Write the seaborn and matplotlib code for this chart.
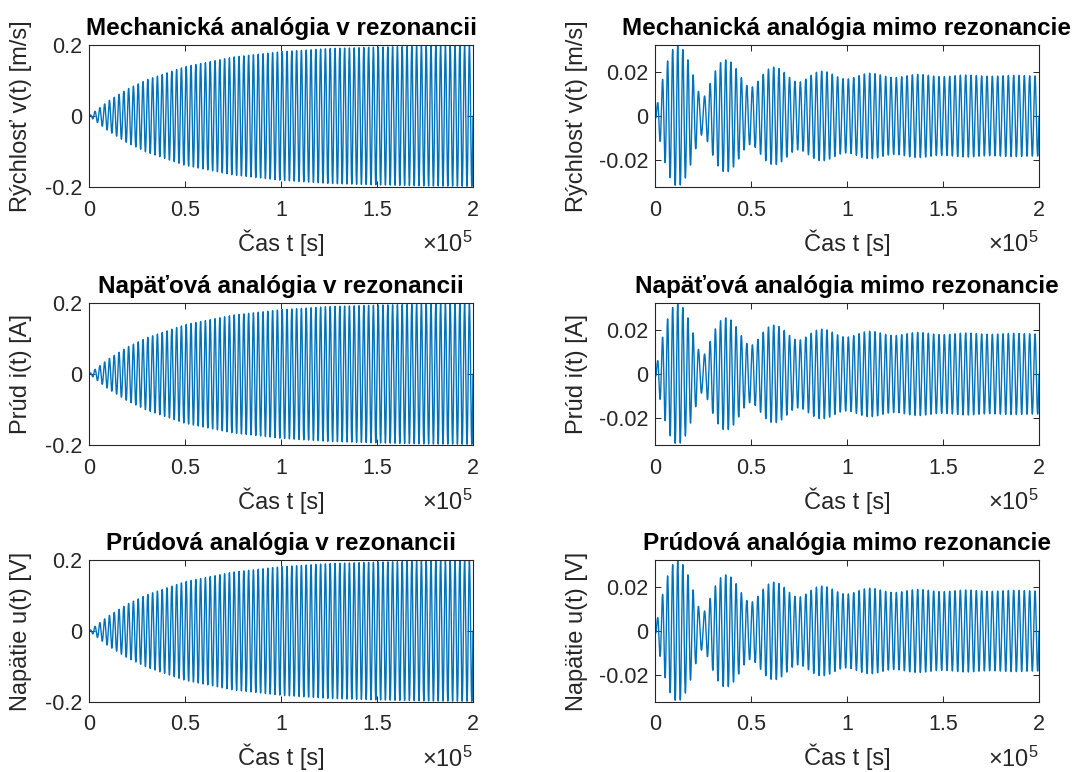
import numpy as np
import pandas as pd
import matplotlib
matplotlib.use("Agg")
import matplotlib.pyplot as plt
import seaborn as sns

# ---------------- data ----------------
titles_left = ["Mechanická analógia v rezonancii",
               "Napäťová analógia v rezonancii",
               "Prúdová analógia v rezonancii"]
titles_right = ["Mechanická analógia mimo rezonancie",
                "Napäťová analógia mimo rezonancie",
                "Prúdová analógia mimo rezonancie"]
ylabels = ["Rýchlosť v(t) [m/s]", "Prúd i(t) [A]", "Napätie u(t) [V]"]
xlabel = "Čas t [s]"

xticks = [0, 0.5, 1, 1.5, 2]            # ×10^5 s
xtick_labels = ["0", "0.5", "1", "1.5", "2"]
yticks_res = [-0.2, 0, 0.2]
ytick_labels_res = ["-0.2", "0", "0.2"]
yticks_off = [-0.02, 0, 0.02]
ytick_labels_off = ["-0.02", "0", "0.02"]

# resonance: envelope of the growing oscillation (time in 1e5 s)
env_t = [0, 0.1, 0.2, 0.3, 0.5, 0.75, 1.0, 1.25, 1.5, 1.75, 2.0]
env_res = [0, 0.042, 0.076, 0.102, 0.139, 0.166, 0.181, 0.190, 0.194, 0.197, 0.198]
cycles_natural = 80          # oscillations over the whole time span

# off resonance: steady-state amplitude + decaying transient amplitude
steady_amp = 0.0185
tr_t = [0, 0.125, 0.25, 0.375, 0.5, 0.625, 0.75, 0.875, 1.0, 1.25, 1.5, 2.0]
tr_amp = [0.0185, 0.0135, 0.0099, 0.0072, 0.0053, 0.0039, 0.0029, 0.0021,
          0.0015, 0.0008, 0.0004, 0.0001]
cycles_drive = 72

t_end = 2e5

# ---------------- build series ----------------
t = np.linspace(0, t_end, 24001)
tk = t / 1e5
w0 = 2 * np.pi * cycles_natural / t_end
wd = 2 * np.pi * cycles_drive / t_end
y_res = np.interp(tk, env_t, env_res) * np.sin(w0 * t)
y_off = steady_amp * np.sin(wd * t) - np.interp(tk, tr_t, tr_amp) * np.sin(w0 * t)
df_res = pd.DataFrame({"t": t, "y": y_res})
df_off = pd.DataFrame({"t": t, "y": y_off})

# ---------------- style ----------------
sns.set_theme(style="ticks")
plt.rcParams["font.family"] = ["Liberation Sans", "DejaVu Sans"]
plt.rcParams["mathtext.fontset"] = "custom"
plt.rcParams["mathtext.rm"] = "Liberation Sans"
plt.rcParams["mathtext.it"] = "Liberation Sans"
plt.rcParams["mathtext.default"] = "regular"
plt.rcParams["xtick.direction"] = "in"
plt.rcParams["ytick.direction"] = "in"
plt.rcParams["xtick.top"] = True
plt.rcParams["ytick.right"] = True

line_color = "#0072BD"
dark = "#262626"

W, H = 1084, 772
fig = plt.figure(figsize=(W / 100, H / 100), dpi=100)

col_left = [89, 655]
ax_w = 384
row_top = [45, 303, 560]
ax_h = 142

for r in range(3):
    for c in range(2):
        x0 = col_left[c] / W
        y0 = 1 - (row_top[r] + ax_h) / H
        ax = fig.add_axes([x0, y0, ax_w / W, ax_h / H])
        data = df_res if c == 0 else df_off
        sns.lineplot(data=data, x="t", y="y", ax=ax, estimator=None, sort=False,
                     color=line_color, linewidth=1.0)
        ax.set_xlim(0, t_end)
        ax.set_xticks([v * 1e5 for v in xticks])
        ax.set_xticklabels(xtick_labels)
        if c == 0:
            ax.set_ylim(-0.2, 0.2)
            ax.set_yticks(yticks_res)
            ax.set_yticklabels(ytick_labels_res)
            ax.set_title(titles_left[r], fontsize=17.5, fontweight="bold",
                         color="black", pad=7)
            ax.yaxis.set_label_coords(-57 / ax_w, 0.5)
        else:
            ax.set_ylim(-0.0326, 0.0326)
            ax.set_yticks(yticks_off)
            ax.set_yticklabels(ytick_labels_off)
            ax.set_title(titles_right[r], fontsize=17.5, fontweight="bold",
                         color="black", pad=7)
            ax.yaxis.set_label_coords(-67 / ax_w, 0.5)
        ax.set_xlabel(xlabel, fontsize=17, color=dark)
        ax.set_ylabel(ylabels[r], fontsize=17, color=dark)
        ax.xaxis.set_label_coords(0.5, -42 / ax_h)
        ax.tick_params(axis="both", labelsize=15.5, colors=dark, length=4,
                       width=0.7)
        ax.tick_params(axis="x", pad=9)
        ax.tick_params(axis="y", pad=5)
        for s in ax.spines.values():
            s.set_color(dark)
            s.set_linewidth(0.8)
        ax.text(1.0, -65 / ax_h, "×10$^{5}$",
                transform=ax.transAxes, ha="right", va="baseline",
                fontsize=17, color=dark)

fig.savefig("out.png", dpi=100)
